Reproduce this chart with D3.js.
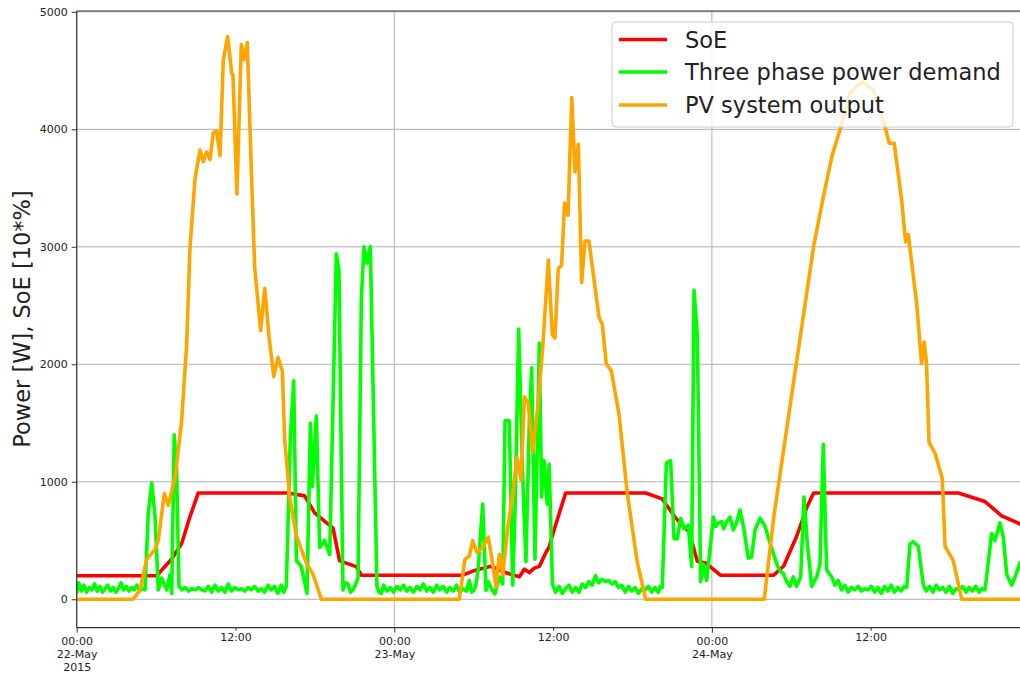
<!DOCTYPE html>
<html>
<head>
<meta charset="utf-8">
<script src="https://cdn.jsdelivr.net/npm/d3@7"></script>
<style>
  html, body { margin: 0; padding: 0; background: #fff; overflow: hidden; }
  svg { display: block; font-family: "DejaVu Sans", sans-serif; }
</style>
</head>
<body>
<svg id="chart" width="1020" height="675"></svg>
<script>
// ---- Data (hours since 22-May-2015 00:00, value) ----
const seriesNames = ["SoE", "Three phase power demand", "PV system output"];
const seriesColors = ["#ff0000", "#00ff00", "#ffa500"];

const soeData = [[0,200],[6.04,200],[7.18,343],[7.93,474],[8.56,703],[9.19,905],[15.97,905],[17.23,880],[17.98,735],[19.37,605],[19.87,327],[21.13,278],[21.51,205],[29.17,205],[30.2,250],[31.31,280],[32.57,221],[33.45,191],[33.83,256],[34.2,227],[34.58,265],[34.96,280],[35.46,398],[35.69,442],[36.19,633],[36.95,905],[43.0,905],[44.25,854],[45.26,692],[46.27,574],[46.9,324],[47.53,309],[48.64,205],[52.67,205],[53.43,283],[54.43,543],[55.19,787],[55.69,905],[66.62,905],[68.64,832],[69.9,710],[71.5,630]];

const demandData = [[0,60],[0.15,140],[0.35,70],[0.55,120],[0.75,60],[0.95,100],[1.15,80],[1.35,130],[1.55,70],[1.75,110],[1.95,60],[2.15,90],[2.35,120],[2.55,70],[2.75,100],[2.95,60],[3.15,90],[3.35,140],[3.55,80],[3.75,110],[3.95,70],[4.15,100],[4.35,80],[4.55,120],[4.75,70],[4.95,90],[5.16,80],[5.41,735],[5.67,990],[5.92,700],[6.17,80],[6.42,180],[6.8,80],[7.05,210],[7.18,50],[7.37,1400],[7.55,1095],[7.73,110],
[7.95,80],[8.2,100],[8.45,70],[8.7,90],[8.95,80],[9.2,100],[9.45,80],[9.7,70],[9.95,110],[10.2,60],[10.45,120],[10.7,70],[10.95,100],[11.2,60],[11.45,130],[11.7,70],[11.95,100],[12.2,80],[12.45,90],[12.7,70],[12.95,100],[13.2,80],[13.45,110],[13.7,70],[13.95,90],[14.2,60],[14.45,120],[14.7,80],[14.95,110],[15.2,50],[15.45,120],[15.65,60],[15.84,110],
[16.14,1356],[16.4,1860],[16.6,330],[16.97,280],[17.4,50],[17.66,1500],[17.81,960],[18.11,1560],[18.36,440],[18.74,500],[19.12,380],[19.62,2940],[19.82,2800],[20.12,80],[20.3,140],[20.5,130],[20.7,60],[20.87,80],[21.05,120],[21.26,180],[21.51,2560],[21.71,3000],[21.94,2860],[22.19,3000],[22.69,110],[22.85,60],[23.02,50],
[23.2,120],[23.45,70],[23.7,100],[23.95,60],[24.2,110],[24.45,80],[24.7,120],[24.95,70],[25.2,100],[25.45,60],[25.7,110],[25.95,80],[26.2,130],[26.45,70],[26.7,100],[26.95,60],[27.2,120],[27.45,80],[27.7,110],[27.95,60],[28.2,100],[28.45,70],[28.7,120],[28.95,60],[29.2,90],
[29.45,70],[29.67,160],[29.85,60],[30.04,80],[30.2,140],[30.33,250],[30.68,810],[30.93,75],[31.1,150],[31.3,100],[31.6,45],[31.94,190],[32.19,130],[32.37,1520],[32.69,1520],[32.95,120],[33.12,750],[33.4,2300],[33.7,1050],[33.95,320],[34.2,1490],[34.38,1970],[34.63,340],[34.96,2180],[35.13,870],[35.31,1180],[35.56,810],[35.7,1150],[35.95,130],
[36.2,60],[36.45,110],[36.7,50],[36.95,90],[37.2,120],[37.45,60],[37.7,100],[37.95,60],[38.2,130],[38.45,100],[38.7,150],[38.95,120],[39.2,200],[39.45,140],[39.7,170],[39.95,150],[40.2,160],[40.45,130],[40.7,150],[40.95,100],[41.2,120],[41.45,60],[41.7,110],[41.95,70],[42.2,100],[42.45,50],[42.7,90],[42.95,80],[43.2,110],[43.45,60],[43.7,100],[43.95,60],[44.1,110],[44.25,100],
[44.56,1160],[44.88,1180],[45.14,515],[45.39,515],[45.64,690],[45.9,600],[46.22,630],[46.47,280],[46.65,2630],[46.9,2250],[47.15,150],[47.35,300],[47.6,160],[47.86,420],[48.11,700],[48.3,620],[48.49,650],[48.74,660],[48.9,600],[49.12,660],[49.37,700],[49.62,590],[49.85,650],[50.13,760],[50.43,590],[50.75,350],[51.0,360],[51.26,590],[51.64,690],[52.02,620],[52.39,480],[52.9,300],[53.15,240],[53.4,220],[53.65,150],[53.9,110],[54.15,190],[54.4,110],[54.71,190],[54.96,870],[55.21,480],[55.54,110],[55.92,190],[56.17,300],[56.42,1320],[56.67,250],[57.05,190],
[57.3,120],[57.55,160],[57.8,80],[58.05,120],[58.3,60],[58.55,100],[58.8,80],[59.05,110],[59.3,70],[59.55,90],[59.8,80],[60.05,110],[60.3,60],[60.55,100],[60.8,50],[61.05,110],[61.3,70],[61.55,120],[61.8,60],[62.05,100],[62.3,70],[62.55,110],[62.72,100],
[62.97,470],[63.22,490],[63.6,450],[63.98,120],
[64.2,70],[64.45,110],[64.7,60],[64.95,120],[65.2,80],[65.45,100],[65.7,60],[65.95,110],[66.2,50],[66.45,90],[66.7,80],[66.95,110],[67.2,60],[67.45,100],[67.7,70],[67.95,110],[68.2,60],[68.4,90],[68.64,80],
[69.14,560],[69.39,500],[69.77,650],[70.02,530],[70.28,210],[70.66,120],[70.91,190],[71.28,310],[71.5,280]];

const pvData = [[0,0],[4.28,0],[4.78,80],[5.29,340],[5.92,425],[6.17,506],[6.62,900],[6.92,800],[7.43,1030],[7.93,1520],[8.31,2170],[8.56,2990],[8.94,3578],[9.32,3824],[9.57,3725],[9.82,3807],[10.07,3742],[10.32,3971],[10.57,3987],[10.83,3775],[11.08,4592],[11.41,4790],[11.71,4477],[11.81,4461],[12.11,3448],[12.44,4722],[12.64,4592],[12.89,4739],[13.2,3644],[13.45,2827],[13.9,2288],[14.21,2647],[14.53,2239],[14.89,1895],[15.21,2059],[15.54,1944],[15.72,1356],[16.1,866],[16.6,539],[17.35,310],[17.86,212],[18.49,0],
[28.91,0],[29.34,339],[29.67,368],[29.92,500],[30.25,398],[30.68,442],[31.1,530],[31.43,309],[31.69,103],[31.94,383],[32.19,206],[32.57,604],[32.95,898],[33.27,1208],[33.58,1016],[33.83,1723],[34.13,1664],[34.46,1252],[34.84,1635],[35.21,2135],[35.64,2887],[35.94,2253],[36.14,2224],[36.39,2813],[36.64,2842],[36.87,3373],[37.13,3269],[37.41,4271],[37.66,3638],[37.91,3873],[38.16,2695],[38.41,3049],[38.71,3049],[39.47,2401],[39.72,2342],[40.02,2003],[40.4,1944],[40.98,1576],[41.61,898],[42.37,309],[43.0,0],
[51.96,0],[52.67,695],[54.18,1854],[55.7,3012],[56.45,3439],[57.08,3774],[57.66,3988],[58.44,4308],[59.32,4405],[60.2,4334],[61.08,4022],[61.41,3881],[61.78,3881],[62.34,3398],[62.64,3043],[62.84,3104],[63.47,2524],[63.85,2006],[64.05,2189],[64.22,2006],[64.41,1335],[64.86,1244],[65.41,1030],[65.62,451],[66.24,329],[66.88,0],[71.5,0]];

const yTicks = [0, 1000, 2000, 3000, 4000, 5000];
const majorTicks = [0, 24, 48];
const majorLabels = [["00:00", "22-May", "2015"], ["00:00", "23-May"], ["00:00", "24-May"]];
const minorTicks = [12, 36, 60];
const minorLabel = "12:00";
const yLabel = "Power [W], SoE [10*%]";

// ---- Layout ----
const mLeft = 76.7, mTop = 11, mBottom = 627.7;
const pxPerHour = 13.233;
const xEnd = 71.5;
const mRight = mLeft + pxPerHour * xEnd;

const svg = d3.select("#chart");
const x = d3.scaleLinear().domain([0, xEnd]).range([mLeft, mRight]);
const y = d3.scaleLinear().domain([-242, 5007]).range([mBottom, mTop]);

// Grid
const grid = svg.append("g");
grid.selectAll("line.h").data(yTicks).enter().append("line")
  .attr("x1", mLeft).attr("x2", mRight)
  .attr("y1", d => y(d)).attr("y2", d => y(d))
  .attr("stroke", "#b0b0b0").attr("stroke-width", 1);
grid.selectAll("line.v").data(majorTicks).enter().append("line")
  .attr("x1", d => x(d)).attr("x2", d => x(d))
  .attr("y1", mTop).attr("y2", mBottom)
  .attr("stroke", "#b0b0b0").attr("stroke-width", 1);

// Lines
svg.append("clipPath").attr("id", "clip").append("rect")
  .attr("x", mLeft).attr("y", mTop).attr("width", mRight - mLeft).attr("height", mBottom - mTop);
const line = d3.line().x(d => x(d[0])).y(d => y(d[1]));
const plot = svg.append("g").attr("clip-path", "url(#clip)");
[soeData, demandData, pvData].forEach((data, i) => {
  plot.append("path").datum(data)
    .attr("d", line)
    .attr("fill", "none")
    .attr("stroke", seriesColors[i])
    .attr("stroke-width", 3.6)
    .attr("stroke-linejoin", "round")
    .attr("stroke-linecap", "square");
});

// Spines
const spine = (x1, y1, x2, y2) => svg.append("line")
  .attr("x1", x1).attr("y1", y1).attr("x2", x2).attr("y2", y2)
  .attr("stroke", "#333").attr("stroke-width", 1.2);
spine(mLeft, mTop, mLeft, mBottom);
spine(mLeft, mBottom, mRight, mBottom);
spine(mLeft, mTop, mRight, mTop);
spine(mRight, mTop, mRight, mBottom);

// Y axis
const yAxis = d3.axisLeft(y).tickValues(yTicks).tickSize(5).tickPadding(4).tickFormat(d3.format("d"));
const gy = svg.append("g").attr("transform", `translate(${mLeft},0)`).call(yAxis);
gy.select(".domain").remove();
gy.selectAll(".tick line").attr("stroke", "#333");
gy.selectAll(".tick text").attr("font-size", 11).attr("fill", "#222")
  .attr("font-family", "DejaVu Sans, sans-serif");

// X axis major
const xAxisMajor = d3.axisBottom(x).tickValues(majorTicks).tickSize(5).tickFormat("");
const gx = svg.append("g").attr("transform", `translate(0,${mBottom})`).call(xAxisMajor);
gx.select(".domain").remove();
gx.selectAll(".tick line").attr("stroke", "#333");
gx.selectAll(".tick").each(function(d, i) {
  const t = d3.select(this).append("text")
    .attr("text-anchor", "middle").attr("font-size", 11).attr("fill", "#222")
    .attr("font-family", "DejaVu Sans, sans-serif");
  majorLabels[i].forEach((s, j) => {
    t.append("tspan").attr("x", 0).attr("y", 17 + j * 13).text(s);
  });
});
// X axis minor
const xAxisMinor = d3.axisBottom(x).tickValues(minorTicks).tickSize(3).tickPadding(5).tickFormat(() => minorLabel);
const gm = svg.append("g").attr("transform", `translate(0,${mBottom})`).call(xAxisMinor);
gm.select(".domain").remove();
gm.selectAll(".tick line").attr("stroke", "#333");
gm.selectAll(".tick text").attr("font-size", 11).attr("fill", "#222")
  .attr("font-family", "DejaVu Sans, sans-serif").attr("y", 6).attr("dy", "0.71em");

// Y label
svg.append("text")
  .attr("transform", `translate(30,319) rotate(-90)`)
  .attr("text-anchor", "middle")
  .attr("font-size", 22.5).attr("fill", "#222")
  .text(yLabel);

// Legend
const lg = svg.append("g");
lg.append("rect").attr("x", 612).attr("y", 22).attr("width", 401).attr("height", 105)
  .attr("rx", 4).attr("fill", "#fff").attr("fill-opacity", 0.8)
  .attr("stroke", "#cccccc").attr("stroke-width", 1);
const legendY = [39.5, 72, 105];
seriesNames.forEach((name, i) => {
  lg.append("line").attr("x1", 619).attr("x2", 667).attr("y1", legendY[i]).attr("y2", legendY[i])
    .attr("stroke", seriesColors[i]).attr("stroke-width", 3.6);
  lg.append("text").attr("x", 685).attr("y", legendY[i]).attr("dy", "0.36em")
    .attr("font-size", 22.5).attr("fill", "#222").text(name);
});
</script>
</body>
</html>
